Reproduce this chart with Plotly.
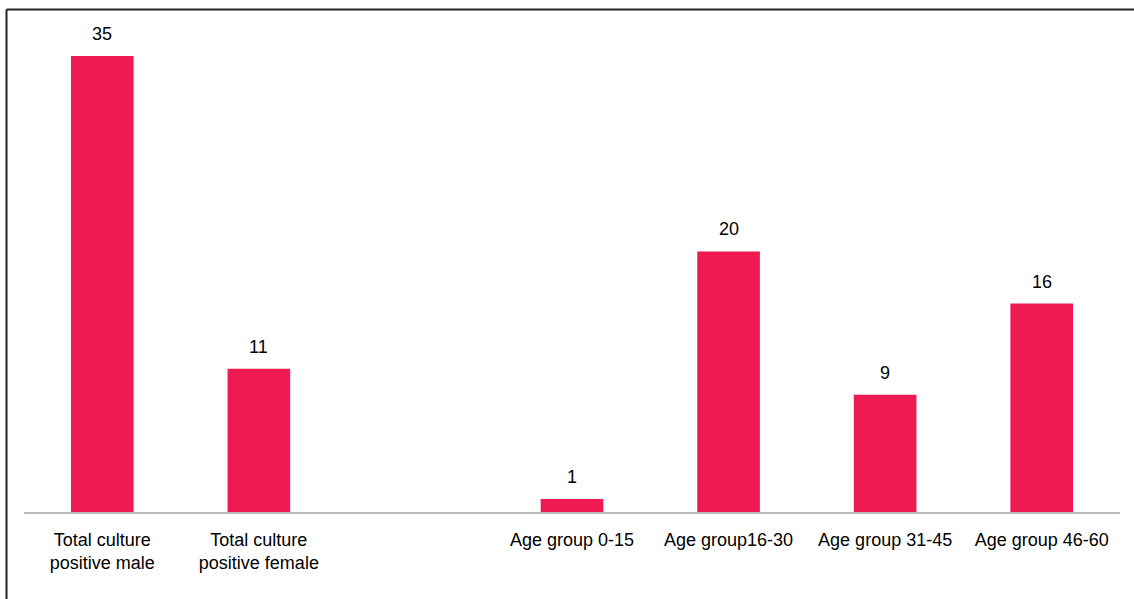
import plotly.graph_objects as go

categories = ["Total culture<br>positive male", "Total culture<br>positive female", "",
              "Age group 0-15", "Age group16-30", "Age group 31-45", "Age group 46-60"]
values = [35, 11, None, 1, 20, 9, 16]
labels = ["35", "11", "", "1", "20", "9", "16"]

x = list(range(len(categories)))
FONT = "Liberation Sans, Arial"

fig = go.Figure(go.Bar(
    x=x, y=values, width=0.4,
    marker=dict(color="#EF1A52", line=dict(width=0)),
))

for xi, v, t in zip(x, values, labels):
    if v is None:
        continue
    fig.add_annotation(x=xi, y=v, text=t, showarrow=False, xanchor="center",
                       yanchor="middle", yshift=22,
                       font=dict(family=FONT, size=18, color="#000"))

L, R, T, B = 24, 14, 30, 87
W, H = 1134, 599
pw, ph = W - L - R, H - T - B
fig.update_layout(
    width=W, height=H,
    margin=dict(l=L, r=R, t=T, b=B, autoexpand=False),
    paper_bgcolor="white", plot_bgcolor="white",
    showlegend=False,
    xaxis=dict(range=[-0.5, 6.5], tickvals=x, ticktext=categories,
               showgrid=False, zeroline=False, showline=True,
               linecolor="#BBBBBB", linewidth=2, ticks="",
               tickangle=0, automargin=False,
               ticklabelstandoff=10,
               tickfont=dict(family=FONT, size=18, color="#000")),
    yaxis=dict(range=[0, 482 / 13.03], visible=False, showgrid=False, zeroline=False,
               automargin=False),
    font=dict(family=FONT, size=18, color="#000"),
    shapes=[
        dict(type="line", xref="paper", yref="paper",
             x0=(6.5 - L) / pw, x1=(6.5 - L) / pw,
             y0=(H - B - 9.5) / ph, y1=(H - B - 700) / ph,
             line=dict(color="#222222", width=2)),
        dict(type="line", xref="paper", yref="paper",
             x0=(6.5 - L) / pw, x1=(1140 - L) / pw,
             y0=(H - B - 9.5) / ph, y1=(H - B - 9.5) / ph,
             line=dict(color="#222222", width=2)),
    ],
)

fig.write_html("out.html")
